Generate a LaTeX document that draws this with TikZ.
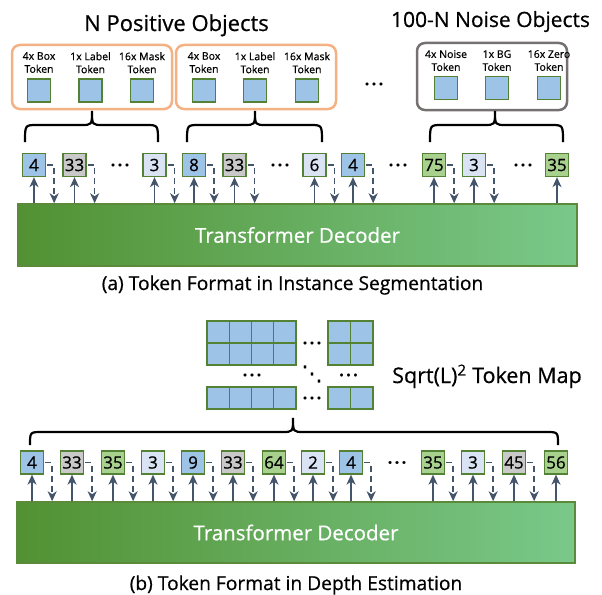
\documentclass[tikz,border=0pt]{standalone}
\usepackage{fontspec}
\setmainfont{Open Sans}[FakeBold=0.6]
\newfontfamily\symfont{DejaVu Sans}[FakeBold=1.5]
\usetikzlibrary{arrows.meta,calc}
\definecolor{tokborder}{HTML}{548235}
\definecolor{cblue}{HTML}{9DC3E6}
\definecolor{cgray}{HTML}{C9C9C9}
\definecolor{clight}{HTML}{DAE3F3}
\definecolor{cgreen}{HTML}{A9D18E}
\definecolor{arrowc}{HTML}{44546A}
\definecolor{orangeb}{HTML}{F4B183}
\definecolor{grayb}{HTML}{767171}
\definecolor{decL}{HTML}{529133}
\definecolor{decR}{HTML}{7AC98A}
\definecolor{decB}{HTML}{5B8A3A}
\newcommand\tdots{.\kern2.4pt.\kern2.4pt.}
\newcommand\bracepath[6]{%
  \draw[bracestyle] (#1,#4) .. controls (#1,#5) .. (#1+12,#5) -- (#3-11,#5)
    .. controls (#3,#5) .. (#3,#6) .. controls (#3,#5) .. (#3+11,#5)
    -- (#2-12,#5) .. controls (#2,#5) .. (#2,#4);}
\begin{document}
\begin{tikzpicture}[x=1pt,y=-1pt,
  tok/.style={draw=tokborder, line width=1.3pt, minimum size=23pt, inner sep=0pt,
    font=\fontsize{17}{17}\selectfont},
  tkB/.style={fill=cblue}, tkG/.style={fill=cgray}, tkL/.style={fill=clight}, tkN/.style={fill=cgreen},
  sq/.style={draw=tokborder, line width=1.3pt, fill=cblue, minimum size=23pt, inner sep=0pt},
  cell/.style={draw=tokborder, line width=1.3pt, fill=cblue},
  lab/.style={font=\fontsize{10.5}{13}\selectfont, align=center, inner sep=0pt, anchor=north},
  grp/.style={line width=2.5pt, rounded corners=8pt, minimum width=160pt, minimum height=64pt, inner sep=0pt},
  upar/.style={draw=arrowc, line width=1.6pt, -{Stealth[length=10pt,width=9pt,inset=3pt]}},
  dnar/.style={upar, dash pattern=on 6pt off 4pt},
  bracestyle/.style={draw=black, line width=2.2pt},
  dotn/.style={font=\fontsize{16}{16}\selectfont\bfseries, inner sep=0pt},
  dec/.style={draw=decB, line width=1.5pt, left color=decL, right color=decR, text=white,
    font=\fontsize{20.5}{20.5}\selectfont, inner sep=0pt},
  ttl/.style={anchor=base, inner sep=0pt},
]
\useasboundingbox (0,0) rectangle (602,594);

% ---------- (a) ----------
\node[ttl, font=\fontsize{22}{22}\selectfont] (title1) at (176.5,31) {N Positive Objects};
\node[ttl, font=\fontsize{21}{21}\selectfont] (title2) at (490.5,27) {100-N Noise Objects};

\node[grp, draw=orangeb] (g1) at (92,77) {};
\node[grp, draw=orangeb] (g2) at (256,77) {};
\node[grp, draw=grayb, minimum width=150pt, minimum height=67pt] (g3) at (492,76.5) {};

\foreach \x/\t [count=\i] in {39/{4x Box\\Token}, 90.5/{1x Label\\Token}, 142/{16x Mask\\Token},
    204/{4x Box\\Token}, 255/{1x Label\\Token}, 307/{16x Mask\\Token}} {
  \node[lab] (l\i) at (\x,52) {\t};
  \node[sq] (s\i) at (\x,90.5) {};
}
\foreach \x/\t [count=\i from 7] in {446/{4x Noise\\Token}, 497/{1x BG\\Token}, 549/{16x Zero\\Token}} {
  \node[lab] (l\i) at (\x,50) {\t};
  \node[sq] (s\i) at (\x,88) {};
}
\node[dotn] (d0) at (374,84) {\tdots};

\bracepath{25}{158}{92}{142}{125}{111}
\bracepath{187}{322}{255}{142}{125}{111}
\bracepath{430}{563}{495}{142}{125}{111}

\node[dec, minimum width=559pt, minimum height=62pt] (deca) at (297.5,235) {Transformer Decoder};

\foreach \x/\v/\s [count=\i] in {34/4/tkB, 74.5/33/tkG, 154.5/3/tkL, 194/8/tkB, 234.5/33/tkG,
    314.5/6/tkL, 353/4/tkB, 434/75/tkN, 474/3/tkL, 557/35/tkN} {
  \node[tok,\s] (a\i) at (\x,165) {\v};
  \draw[upar] (a\i.south |- deca.north) -- (a\i.south);
}
\foreach \i in {1,...,9} {
  \path (a\i.east) ++(8,0) coordinate (ca\i);
  \draw[dnar] ([xshift=1pt]a\i.east) -- (ca\i) -- (ca\i |- deca.north);
}
\foreach \x [count=\i] in {120,280,398,523} \node[dotn] (da\i) at (\x,165) {\tdots};

\node[ttl, font=\fontsize{19.2}{19.2}\selectfont] (capa) at (292.5,290) {(a) Token Format in Instance Segmentation};

% ---------- (b) ----------
\foreach \yy in {321,343,387} {
  \foreach \cc in {0,...,3} \draw[cell] (207+\cc*22.25,\yy) rectangle ++(22.25,22);
  \foreach \cc in {0,1} \draw[cell] (328+\cc*22.5,\yy) rectangle ++(22.5,22);
}
\node[dotn] (gd1) at (312,343) {\tdots};
\node[dotn] (gd2) at (252,375) {\tdots};
\node[dotn] (gd3) at (348.5,375) {\tdots};
\node[dotn] (gd4) at (312,398) {\tdots};
\node[inner sep=0pt, font=\fontsize{21}{21}\symfont] (gd5) at (312,374) {⋱};

\node[ttl, font=\fontsize{21.5}{21.5}\selectfont] (sqt) at (487,383) {Sqrt(L)\textsuperscript{2} Token Map};

\bracepath{30}{558}{293}{445}{432}{418}

\node[dec, minimum width=558pt, minimum height=61pt] (decb) at (296,532.5) {Transformer Decoder};

\foreach \x/\v/\s [count=\i] in {32/4/tkB, 72/33/tkG, 113/35/tkN, 153/3/tkL, 193/9/tkB, 233/33/tkG,
    274/64/tkN, 313/2/tkL, 351/4/tkB, 433/35/tkN, 473/3/tkL, 514/45/tkG, 556/56/tkN} {
  \node[tok,\s] (b\i) at (\x,462.5) {\v};
  \draw[upar] (b\i.south |- decb.north) -- (b\i.south);
}
\foreach \i in {1,...,12} {
  \path (b\i.east) ++(8,0) coordinate (cb\i);
  \draw[dnar] ([xshift=1pt]b\i.east) -- (cb\i) -- (cb\i |- decb.north);
}
\node[dotn] (db1) at (397,462.5) {\tdots};

\node[ttl, font=\fontsize{19.2}{19.2}\selectfont] (capb) at (296,590) {(b) Token Format in Depth Estimation};
\end{tikzpicture}
\end{document}
